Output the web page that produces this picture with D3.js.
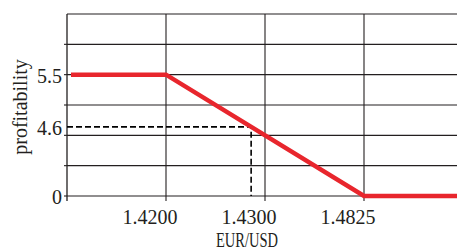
<!DOCTYPE html>
<html>
<head>
<meta charset="utf-8">
<script src="https://cdn.jsdelivr.net/npm/d3@7"></script>
<style>
  html, body { margin: 0; padding: 0; background: #fff; }
  svg { display: block; }
  text { font-family: "Liberation Serif", "DejaVu Serif", serif; fill: #231f20; }
</style>
</head>
<body>
<div id="chart"></div>
<script>
// exchange rate slots along the x axis (schematic, equally spaced)
const rateSlots = ['start', '1.4200', '1.4300', '1.4825', 'end'];
const rateLabels = ['1.4200', '1.4300', '1.4825'];

// profitability line
const lineRates = ['start', '1.4200', '1.4825', 'end'];
const lineProfit = [5.5, 5.5, 0, 0];

// marked value on the y axis
const profitLabels = [0, 4.6, 5.5];
const markedProfit = 4.6;

const width = 457, height = 250;
const plotLeft = 67, plotTop = 14, plotBottom = 196;

const svg = d3.select('#chart').append('svg')
    .attr('width', width)
    .attr('height', height);

// grid rows (6 equal bands)
const gridY = d3.scaleLinear().domain([0, 6]).range([plotBottom, plotTop]);

// y is schematic: values placed on the grid rows
const y = d3.scaleLinear()
    .domain([0, 4.6, 5.5])
    .range([gridY(0), gridY(2.28), gridY(4)]);

const x = d3.scalePoint()
    .domain(rateSlots)
    .range([plotLeft, plotLeft + 4 * 99]);

const gridColor = '#231f20';

// horizontal grid lines
svg.append('g')
    .selectAll('line')
    .data(d3.range(0, 7))
    .join('line')
    .attr('x1', plotLeft)
    .attr('x2', width)
    .attr('y1', d => gridY(d))
    .attr('y2', d => gridY(d))
    .attr('stroke', gridColor)
    .attr('stroke-width', 1.1);

// small ticks left of the y axis
svg.append('g')
    .selectAll('line')
    .data(d3.range(0, 6))
    .join('line')
    .attr('x1', plotLeft - 3)
    .attr('x2', plotLeft)
    .attr('y1', d => gridY(d))
    .attr('y2', d => gridY(d))
    .attr('stroke', gridColor)
    .attr('stroke-width', 1.1);

// vertical grid lines at the rate ticks
svg.append('g')
    .selectAll('line')
    .data(rateLabels)
    .join('line')
    .attr('x1', d => x(d))
    .attr('x2', d => x(d))
    .attr('y1', plotTop)
    .attr('y2', plotBottom + 5)
    .attr('stroke', gridColor)
    .attr('stroke-width', 1.1);

// y axis line
svg.append('line')
    .attr('x1', plotLeft).attr('x2', plotLeft)
    .attr('y1', plotTop).attr('y2', plotBottom + 5)
    .attr('stroke', gridColor)
    .attr('stroke-width', 1.3);

// dashed guide to the marked value
const p1 = [x('1.4200'), y(5.5)], p2 = [x('1.4825'), y(0)];
const yMark = y(markedProfit);
const xMark = p1[0] + (yMark - p1[1]) / (p2[1] - p1[1]) * (p2[0] - p1[0]);

svg.append('path')
    .attr('d', `M${plotLeft},${yMark}H${xMark}V${plotBottom}`)
    .attr('fill', 'none')
    .attr('stroke', '#000')
    .attr('stroke-width', 1.6)
    .attr('stroke-dasharray', '6,3');

// profitability line
const line = d3.line()
    .x((d, i) => x(lineRates[i]) + (i === 0 ? 4 : 0))
    .y(d => y(d));

svg.append('path')
    .datum(lineProfit)
    .attr('d', line)
    .attr('fill', 'none')
    .attr('stroke', '#e8262d')
    .attr('stroke-width', 4.5);

// y labels
svg.append('g')
    .selectAll('text')
    .data(profitLabels)
    .join('text')
    .attr('x', plotLeft - 5)
    .attr('y', d => y(d) + 8)
    .attr('text-anchor', 'end')
    .attr('font-size', 20)
    .text(d => d);

// x labels
svg.append('g')
    .selectAll('text')
    .data(rateLabels)
    .join('text')
    .attr('x', d => x(d) - 16)
    .attr('y', 224)
    .attr('text-anchor', 'middle')
    .attr('font-size', 20)
    .text(d => d);

// axis titles
svg.append('text')
    .attr('x', 247)
    .attr('y', 247)
    .attr('text-anchor', 'middle')
    .attr('font-size', 20)
    .attr('textLength', 62)
    .attr('lengthAdjust', 'spacingAndGlyphs')
    .text('EUR/USD');

svg.append('text')
    .attr('transform', 'translate(27,107) rotate(-90)')
    .attr('text-anchor', 'middle')
    .attr('font-size', 20)
    .text('profitability');
</script>
</body>
</html>
